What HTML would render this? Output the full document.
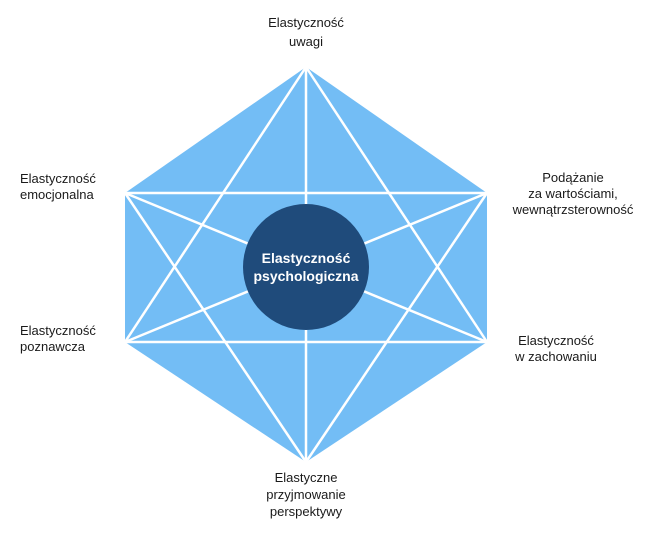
<!DOCTYPE html>
<html><head><meta charset="utf-8"><style>body{margin:0;background:#fff}svg{display:block}text{font-family:"Liberation Sans",sans-serif;font-size:13px;fill:#1a1a1a}</style></head><body>
<svg width="656" height="542" viewBox="0 0 656 542">
<polygon points="306,67 487,193 487,342 306,462 125,342 125,193" fill="#73bdf5"/>
<g stroke="#fff" stroke-width="2.5" fill="none">
<line x1="125" y1="193" x2="487" y2="193"/>
<line x1="125" y1="342" x2="487" y2="342"/>
<line x1="306" y1="67" x2="306" y2="462"/>
<line x1="306" y1="67" x2="125" y2="342"/>
<line x1="306" y1="67" x2="487" y2="342"/>
<line x1="306" y1="462" x2="125" y2="193"/>
<line x1="306" y1="462" x2="487" y2="193"/>
<line x1="125" y1="193" x2="487" y2="342"/>
<line x1="125" y1="342" x2="487" y2="193"/>
</g>
<circle cx="306" cy="267" r="63" fill="#1f4b7b"/>
<g text-anchor="middle">
<text x="306" y="263" style="fill:#fff;font-size:14px;font-weight:bold">Elastyczność</text>
<text x="306" y="281" style="fill:#fff;font-size:14px;font-weight:bold">psychologiczna</text>
<text x="306" y="27">Elastyczność</text>
<text x="306" y="46">uwagi</text>
<text x="573" y="182">Podążanie</text>
<text x="573" y="198">za wartościami,</text>
<text x="573" y="214">wewnątrzsterowność</text>
<text x="556" y="345">Elastyczność</text>
<text x="556" y="361">w zachowaniu</text>
<text x="306" y="482">Elastyczne</text>
<text x="306" y="499">przyjmowanie</text>
<text x="306" y="516">perspektywy</text>
</g>
<text x="20" y="183">Elastyczność</text>
<text x="20" y="199">emocjonalna</text>
<text x="20" y="335">Elastyczność</text>
<text x="20" y="351">poznawcza</text>
</svg>
</body></html>
